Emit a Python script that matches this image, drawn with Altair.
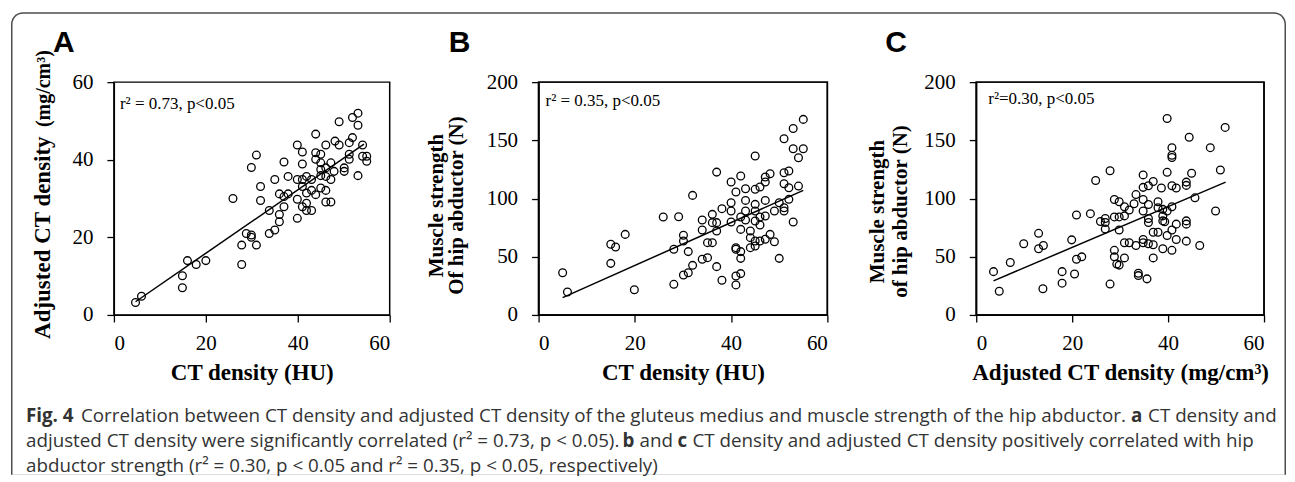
import altair as alt
import pandas as pd

# ---------------- data ----------------
a_x = [4.7, 6.0, 14.9, 14.9, 16.0, 17.9, 20.0, 25.9, 27.8, 27.8, 28.8, 29.9, 29.9, 31.0, 29.9, 31.0,
       31.9, 31.9, 33.8, 33.8, 35.0, 35.0, 36.0, 36.0, 36.0, 37.0, 37.0, 37.0, 37.9, 37.9, 39.9, 39.9,
       39.9, 39.9, 41.0, 41.0, 41.0, 41.0, 41.0, 41.9, 41.9, 41.9, 41.9, 43.0, 43.0, 43.0, 43.9, 43.9,
       43.9, 43.9, 45.0, 45.0, 45.0, 45.0, 45.0, 46.1, 46.1, 46.1, 46.1, 46.1, 47.2, 47.2, 47.2, 47.9,
       48.1, 49.0, 49.0, 50.1, 50.1, 51.2, 51.2, 51.2, 51.9, 51.9, 53.1, 53.1, 53.1, 54.1, 54.1, 55.0, 55.0]
a_y = [3.2, 4.8, 10.1, 7.0, 14.0, 13.0, 14.0, 30.0, 18.0, 13.0, 21.0, 20.6, 20.0, 18.0, 38.0, 41.2,
       33.1, 29.5, 26.9, 21.0, 21.9, 34.9, 31.2, 25.9, 24.0, 39.4, 30.5, 27.9, 35.7, 31.2, 43.8, 34.9,
       29.8, 24.9, 42.0, 38.9, 34.9, 33.1, 27.9, 35.7, 31.4, 28.8, 26.9, 34.9, 32.1, 26.9, 46.6, 41.8,
       40.1, 31.0, 41.4, 39.2, 37.5, 35.9, 32.7, 43.8, 37.9, 35.7, 32.1, 29.1, 39.2, 34.9, 29.1, 37.0,
       44.8, 49.8, 43.8, 37.0, 37.9, 44.4, 40.1, 41.4, 45.7, 50.9, 52.0, 48.9, 35.9, 43.8, 40.9, 40.9, 39.6]

b_x = [5.0, 6.0, 15.0, 16.0, 15.0, 18.0, 19.9, 25.9, 28.1, 28.1, 29.1, 30.1, 30.1, 30.1, 31.1, 31.1,
       32.0, 32.0, 34.0, 34.0, 34.0, 35.1, 35.1, 36.1, 36.1, 36.1, 37.0, 37.0, 37.0, 37.0, 38.1, 38.1,
       40.0, 40.0, 40.0, 40.0, 41.0, 41.0, 41.0, 41.0, 41.0, 42.0, 42.0, 42.0, 42.0, 42.0, 42.0, 43.0,
       43.0, 43.0, 43.0, 44.0, 44.0, 44.0, 45.0, 45.0, 45.0, 45.0, 45.0, 45.0, 45.0, 46.0, 46.0, 46.0,
       46.0, 47.1, 47.1, 47.1, 47.1, 47.1, 48.1, 48.1, 49.0, 49.0, 50.0, 50.0, 51.0, 51.0, 51.0, 51.0,
       51.0, 52.0, 52.0, 52.0, 52.9, 52.9, 52.9, 54.0, 54.0, 55.0, 55.0]
b_y = [36.3, 19.7, 60.7, 58.4, 44.3, 69.2, 21.7, 84.1, 26.3, 56.4, 84.4, 68.4, 63.5, 34.3, 54.4, 36.3,
       102.7, 42.6, 81.5, 73.0, 47.8, 62.1, 49.2, 86.4, 79.3, 62.1, 122.7, 79.3, 72.1, 41.5, 91.3, 29.8,
       114.2, 96.4, 89.3, 79.8, 105.6, 57.8, 56.4, 33.5, 25.8, 119.3, 84.1, 73.5, 54.4, 48.6, 35.5, 108.4,
       98.4, 89.3, 81.5, 72.1, 66.4, 57.8, 136.5, 107.9, 95.0, 89.3, 80.7, 63.5, 59.2, 109.9, 84.1, 77.3,
       63.5, 118.5, 98.4, 85.0, 65.0, 114.2, 121.3, 69.2, 89.3, 62.9, 96.4, 48.6, 151.4, 122.2, 112.7, 92.1,
       89.3, 123.6, 109.3, 99.3, 160.2, 142.8, 79.8, 135.0, 110.7, 168.0, 142.8]

c_x = [3.6, 4.8, 7.1, 9.9, 13.0, 13.0, 14.0, 13.9, 17.9, 17.9, 19.9, 20.5, 20.9, 20.9, 22.0, 23.8,
       24.9, 25.9, 26.9, 26.9, 26.9, 27.9, 27.9, 28.8, 28.8, 28.8, 28.8, 29.8, 29.8, 29.8, 29.8, 29.3,
       30.9, 30.9, 30.9, 30.9, 31.9, 31.9, 32.9, 33.3, 33.3, 33.8, 33.8, 34.8, 34.8, 34.8, 34.8, 34.8,
       34.8, 35.9, 35.9, 35.9, 35.9, 35.9, 35.6, 36.9, 36.9, 36.9, 36.9, 37.9, 37.9, 37.9, 38.6, 38.9,
       38.9, 38.9, 38.9, 39.8, 39.8, 39.8, 39.8, 39.3, 40.8, 40.8, 40.8, 40.8, 40.8, 40.8, 40.8, 41.7,
       41.7, 41.7, 43.8, 43.8, 43.8, 43.8, 43.8, 44.4, 44.9, 45.6, 46.6, 48.8, 49.9, 50.9, 51.9]
c_y = [37.2, 20.3, 45.1, 61.1, 70.1, 56.9, 59.7, 22.5, 37.2, 27.3, 64.5, 35.2, 85.9, 47.9, 49.9, 87.0,
       115.5, 80.3, 82.8, 79.4, 73.8, 123.9, 26.5, 99.2, 84.2, 55.5, 49.9, 97.2, 84.2, 73.0, 42.8, 43.7,
       93.0, 85.1, 62.0, 49.0, 90.1, 62.0, 95.5, 59.7, 103.4, 35.8, 33.8, 120.3, 109.6, 99.2, 89.3, 64.8,
       62.0, 111.0, 94.9, 82.8, 79.4, 61.1, 31.0, 114.6, 71.0, 60.3, 49.0, 97.2, 92.1, 71.0, 109.0, 90.7,
       85.1, 80.8, 56.9, 168.7, 122.5, 89.3, 68.2, 80.0, 143.7, 137.2, 135.2, 111.0, 93.0, 73.0, 55.5, 109.0,
       78.0, 64.8, 114.1, 111.3, 80.8, 78.0, 63.4, 152.7, 121.7, 100.6, 59.7, 143.7, 89.3, 124.5, 161.1]

# fitted regression lines (end points)
a_line_x = [4.7, 54.4]
a_line_y = [3.4, 44.0]
b_line_x = [5.0, 55.0]
b_line_y = [14.9, 107.0]
c_line_x = [3.6, 52.0]
c_line_y = [29.3, 114.1]

x_ticks = [0, 20, 40, 60]
a_y_ticks = [0, 20, 40, 60]
bc_y_ticks = [0, 50, 100, 150, 200]

# caption runs: (text, bold, left x in page px, line index)
caption_runs = [
    ("Fig. 4", True, 25, 0),
    ("Correlation between CT density and adjusted CT density of the gluteus medius and muscle strength of the hip abductor.", False, 80, 0),
    ("a", True, 1131, 0),
    ("CT density and", False, 1148, 0),
    ("adjusted CT density were significantly correlated (r² = 0.73, p < 0.05).", False, 25, 1),
    ("b", True, 622, 1),
    ("and", False, 639, 1),
    ("c", True, 677, 1),
    ("CT density and adjusted CT density positively correlated with hip", False, 692, 1),
    ("abductor strength (r² = 0.30, p < 0.05 and r² = 0.35, p < 0.05, respectively)", False, 25, 2),
]

SERIF = "Liberation Serif"
SANS = "Liberation Sans"
CAP = "Open Sans"
CAP_FS = 18.8
H = 233
AX0 = 113  # panel A plot left, page px
AY0 = 81   # panel A plot top, page px
cap_base = [340, 365, 390]


def panel(xs, ys, lx, ly, ydom, yticks, xtitle, ytitle, w, letter, letter_dx,
          note, note_dx, note_y, tx, ty, tlh, ytfs=21, before=(), after=()):
    xsc = alt.Scale(domain=[0, 60], nice=False, zero=False)
    ysc = alt.Scale(domain=ydom, nice=False, zero=False)
    xenc = alt.X("x:Q", scale=xsc,
                 axis=alt.Axis(values=x_ticks, title=xtitle, labelBaseline="alphabetic",
                               labelPadding=28, titleY=65, titleBaseline="alphabetic",
                               titleFontSize=23, zindex=1))
    yax = dict(values=yticks, labelPadding=14, zindex=1)
    if ytitle:
        yax.update(title=ytitle, titleAngle=270, titleX=tx, titleY=ty, titleAlign="center",
                   titleBaseline="alphabetic", titleLineHeight=tlh, titleFontSize=ytfs)
    else:
        yax.update(title="")
    yenc = alt.Y("y:Q", scale=ysc, axis=alt.Axis(**yax))
    pts = alt.Chart(pd.DataFrame({"x": xs, "y": ys})).mark_point(
        shape="circle", filled=False, size=60, strokeWidth=1.3, color="black", opacity=1
    ).encode(x=xenc, y=yenc)
    line = alt.Chart(pd.DataFrame({"x": lx, "y": ly})).mark_line(
        color="black", strokeWidth=1.5
    ).encode(x=xenc, y=yenc)
    box = alt.Chart(pd.DataFrame({"v": [0]})).mark_rect(
        fillOpacity=0, stroke="black", strokeWidth=1.5
    ).encode(x=alt.value(0), x2=alt.value(w), y=alt.value(0), y2=alt.value(H))
    lab = alt.Chart(pd.DataFrame({"t": [letter]})).mark_text(
        font=SANS, fontSize=30, fontWeight="bold", align="left", baseline="alphabetic", color="black"
    ).encode(x=alt.value(letter_dx), y=alt.value(-30), text="t:N")
    ann = alt.Chart(pd.DataFrame({"t": [note]})).mark_text(
        font=SERIF, fontSize=17, align="left", baseline="alphabetic", color="black"
    ).encode(x=alt.value(note_dx), y=alt.value(note_y), text="t:N")
    layers = list(before) + [box, pts, line, ann, lab] + list(after)
    return alt.layer(*layers).properties(width=w, height=H)


# ---- frame, caption and panel-A y title, positioned relative to panel A's plot origin ----
FL, FR, FT, FB = -103, 1173, -70, 393
frame_outer = alt.Chart(pd.DataFrame({"v": [0]})).mark_rect(
    color="#4d4d4d", cornerRadiusTopLeft=12, cornerRadiusTopRight=12
).encode(x=alt.value(FL), x2=alt.value(FR), y=alt.value(FT), y2=alt.value(FB))
frame_inner = alt.Chart(pd.DataFrame({"v": [0]})).mark_rect(
    color="white", cornerRadiusTopLeft=10.5, cornerRadiusTopRight=10.5
).encode(x=alt.value(FL + 1.5), x2=alt.value(FR - 1.5), y=alt.value(FT + 1.5), y2=alt.value(FB))

extra = []
for txt, bold, xa, li in caption_runs:
    extra.append(
        alt.Chart(pd.DataFrame({"t": [txt]})).mark_text(
            font=CAP, fontSize=CAP_FS, fontWeight="bold" if bold else "normal", align="left",
            baseline="alphabetic", color="#333333"
        ).encode(x=alt.value(xa - AX0), y=alt.value(cap_base[li]), text="t:N")
    )

# panel A y title: main part and smaller unit part, reading bottom to top
a_ytitle_main = "Adjusted CT density"
a_ytitle_unit = "(mg/cm³)"
extra.append(alt.Chart(pd.DataFrame({"t": [a_ytitle_main]})).mark_text(
    font=SERIF, fontSize=23, fontWeight="bold", angle=270, align="left", baseline="alphabetic",
    color="black").encode(x=alt.value(-64), y=alt.value(257), text="t:N"))
extra.append(alt.Chart(pd.DataFrame({"t": [a_ytitle_unit]})).mark_text(
    font=SERIF, fontSize=20, fontWeight="bold", angle=270, align="left", baseline="alphabetic",
    color="black").encode(x=alt.value(-64), y=alt.value(45), text="t:N"))

pa = panel(a_x, a_y, a_line_x, a_line_y, [0, 60], a_y_ticks, "CT density (HU)",
           None, 276, "A", -61, "r² = 0.73, p<0.05", 6, 27, -65, 97, 20,
           before=[frame_outer, frame_inner], after=extra)
pb = panel(b_x, b_y, b_line_x, b_line_y, [0, 200], bc_y_ticks, "CT density (HU)",
           ["Muscle strength", "Of hip abductor (N)"], 289, "B", -90, "r² = 0.35, p<0.05", 7, 24,
           -96, 123, 20)
pc = panel(c_x, c_y, c_line_x, c_line_y, [0, 200], bc_y_ticks, "Adjusted CT density (mg/cm³)",
           ["Muscle strength", "of hip abductor (N)"], 288, "C", -91, "r²=0.30, p<0.05", 12, 22,
           -93, 129, 23)

chart = alt.hconcat(pa, pb, pc, spacing=149, bounds="flush").properties(
    padding={"left": 2, "top": 3, "right": 0, "bottom": 0}
).configure_view(stroke="black", strokeWidth=1.5).configure_axis(
    grid=False, domainColor="black", domainWidth=1.3, tickColor="black", tickSize=7, tickWidth=1.3,
    labelFont=SERIF, labelFontSize=21, labelColor="black", titleFont=SERIF, titleFontSize=21,
    titleFontWeight="bold", titleColor="black"
)

chart.save("out.html", embed_options={"renderer": "svg", "actions": False})
